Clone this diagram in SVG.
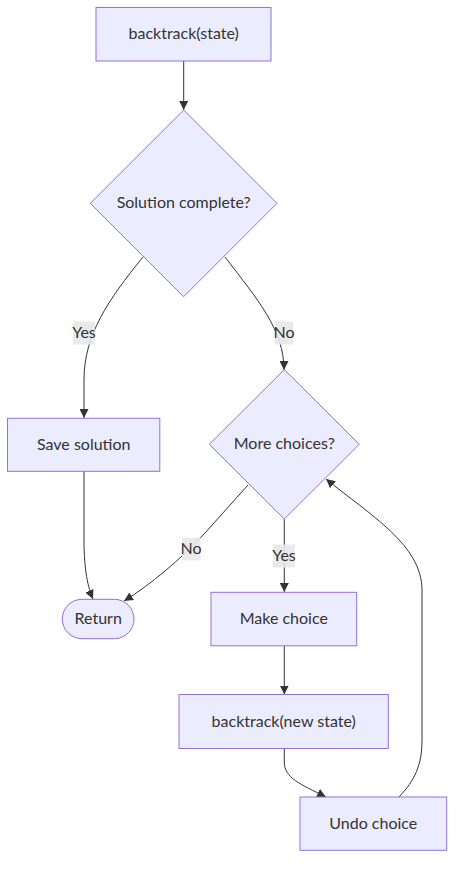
<svg xmlns="http://www.w3.org/2000/svg" width="462" height="873" viewBox="0 0 462 873">
<style>
.node rect, .node polygon { fill: #ECECFF; stroke: #9370DB; stroke-width: 1; }
.lbl { font-family: Lato, "Open Sans", "Liberation Sans", sans-serif; font-size: 16px; fill: #333333; text-anchor: middle; dominant-baseline: central; }
.edge { fill: none; stroke: #333333; stroke-width: 1; }
.elbg { fill: #E8E8E8; opacity: 0.9; }
</style>
<defs>
<marker id="arr" viewBox="0 0 10 10" refX="10" refY="5" markerWidth="9" markerHeight="9" markerUnits="userSpaceOnUse" orient="auto">
<path d="M0,0 L10,5 L0,10 z" fill="#333333"/>
</marker>
</defs>
<rect width="462" height="873" fill="#ffffff"/>
<g id="edges">
<path class="edge" d="M183.7,61 L183.7,110" marker-end="url(#arr)"/>
<path class="edge" d="M143,257 C108,300 84,335 84,380 L84,418" marker-end="url(#arr)"/>
<path class="edge" d="M225,257 C258,300 284,330 284,370" marker-end="url(#arr)"/>
<path class="edge" d="M84,471 L84,540 C84,570 88,588 93,599" marker-end="url(#arr)"/>
<path class="edge" d="M248,485 L205,533 C180,560 150,585 124,601" marker-end="url(#arr)"/>
<path class="edge" d="M284.3,519 L284.3,592" marker-end="url(#arr)"/>
<path class="edge" d="M284.3,646 L284.3,694.5" marker-end="url(#arr)"/>
<path class="edge" d="M284.3,748.5 L284.3,762 C284.3,778 300,784 326,797" marker-end="url(#arr)"/>
<path class="edge" d="M399,797 C415,780 422,765 422,740 L422,590 C422,545 370,515 326,479" marker-end="url(#arr)"/>
</g>
<g id="edge-labels">
<g id="lbl-yes1"><rect class="elbg" x="73" y="321.5" width="22" height="23"/><text class="lbl" x="84" y="331.5">Yes</text></g>
<g id="lbl-no1"><rect class="elbg" x="275" y="321.5" width="18" height="23"/><text class="lbl" x="284" y="331.5">No</text></g>
<g id="lbl-no2"><rect class="elbg" x="182" y="537.5" width="18.5" height="23"/><text class="lbl" x="191" y="547.5">No</text></g>
<g id="lbl-yes2"><rect class="elbg" x="273" y="544.5" width="22" height="23"/><text class="lbl" x="284" y="554.5">Yes</text></g>
</g>
<g id="node-start" class="node"><rect x="96" y="7.5" width="175" height="53.5"/><text class="lbl" x="183.7" y="32.8">backtrack(state)</text></g>
<g id="node-complete" class="node"><polygon points="183.7,110 277,203.3 183.7,296.7 90.3,203.3"/><text class="lbl" x="183.7" y="201.8">Solution complete?</text></g>
<g id="node-save" class="node"><rect x="7.5" y="418.3" width="152.3" height="53"/><text class="lbl" x="83.7" y="443.3">Save solution</text></g>
<g id="node-more" class="node"><polygon points="284.3,369.6 359.3,444.3 284.3,519 209.3,444.3"/><text class="lbl" x="284.3" y="442.8">More choices?</text></g>
<g id="node-return" class="node"><rect x="62.3" y="599.3" width="71.7" height="39.4" rx="19.7" ry="19.7"/><text class="lbl" x="98.2" y="617.5">Return</text></g>
<g id="node-make" class="node"><rect x="211" y="592.3" width="145.7" height="53.5"/><text class="lbl" x="283.8" y="617.5">Make choice</text></g>
<g id="node-recurse" class="node"><rect x="179" y="694.5" width="209.3" height="54"/><text class="lbl" x="283.7" y="720">backtrack(new state)</text></g>
<g id="node-undo" class="node"><rect x="300" y="797" width="146.7" height="53.3"/><text class="lbl" x="373.3" y="822.2">Undo choice</text></g>
</svg>
